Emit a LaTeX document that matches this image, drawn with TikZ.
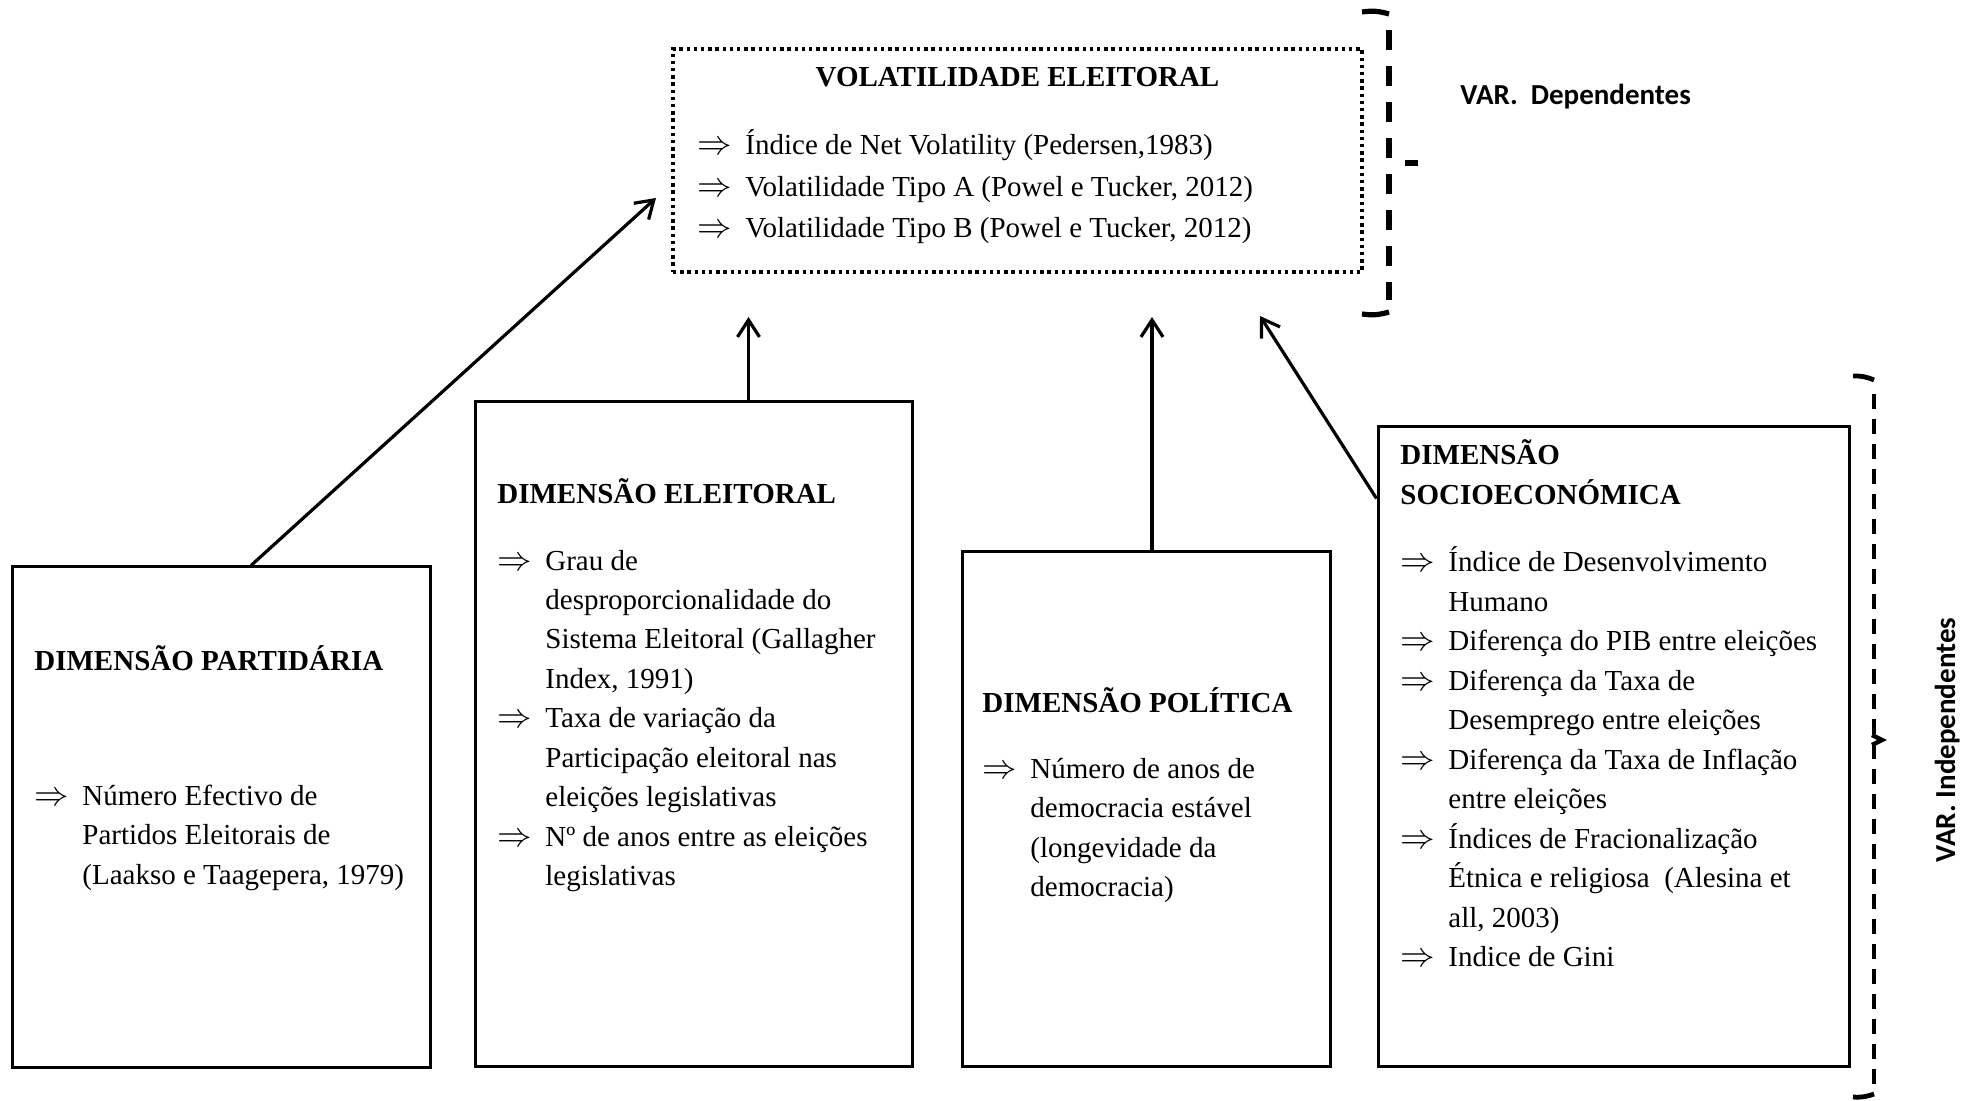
\documentclass[tikz,border=0pt]{standalone}
\usepackage{fontspec}
\setmainfont{Liberation Serif}
\newfontfamily\varfont{Carlito}
\usepackage{tikz}
\usetikzlibrary{arrows.meta, calc}

\newcommand{\imp}{{\fontsize{16}{16}\selectfont$\Rightarrow$}}
\newcommand{\dimlist}[1]{\begin{tabular}[t]{@{}p{24pt}@{}l@{}}#1\end{tabular}}

\begin{document}
\begin{tikzpicture}[
    x=0.5pt, y=-0.5pt,
    font=\fontsize{14.5}{19.75}\selectfont,
    % Define styles
    dimbox/.style = {rectangle, draw, line width=1.5pt, inner sep=0pt},
    depbox/.style = {rectangle, draw, line width=1.7pt, dash pattern=on 1.7pt off 1.9pt, inner sep=0pt},
    title/.style = {anchor=base west, inner sep=0pt, font=\fontsize{14.5}{19.75}\selectfont\bfseries},
    items/.style = {anchor=base west, inner sep=0pt},
    arrow/.style = {line width=1.6pt, -{Straight Barb[length=8.5pt, width=11pt]}},
    bracket/.style = {line width=2.6pt},
    varlabel/.style = {inner sep=0pt, font=\fontsize{14.5}{17}\selectfont\varfont\bfseries}
]
\useasboundingbox (0,0) rectangle (1966,1101);

% Boxes
\node [depbox, minimum width=344.5pt, minimum height=111.5pt] (volatilidade) at (1017.5,160.5) {};
\node [dimbox, minimum width=209pt, minimum height=250pt] (partidaria) at (221,817) {};
\node [dimbox, minimum width=218.5pt, minimum height=332pt] (eleitoral) at (693.5,734) {};
\node [dimbox, minimum width=184pt, minimum height=257pt] (politica) at (1146,809) {};
\node [dimbox, minimum width=235.5pt, minimum height=319.5pt] (socio) at (1613.5,746.5) {};

% Texts
\node [title, anchor=base] (volatilidade-tit) at (1017.5,87) {VOLATILIDADE ELEITORAL};
\node [items, font=\fontsize{14.5}{20.7}\selectfont] (volatilidade-lst) at (697,155) {\dimlist{%
  \imp & Índice de Net Volatility (Pedersen,1983)\\
  \imp & Volatilidade Tipo A (Powel e Tucker, 2012)\\
  \imp & Volatilidade Tipo B (Powel e Tucker, 2012)}};

\node [title] (partidaria-tit) at (34,670) {DIMENSÃO PARTIDÁRIA};
\node [items] (partidaria-lst) at (34,805) {\dimlist{%
  \imp & Número Efectivo de\\
       & Partidos Eleitorais de\\
       & (Laakso e Taagepera, 1979)}};

\node [title] (eleitoral-tit) at (497,504) {DIMENSÃO ELEITORAL};
\node [items] (eleitoral-lst) at (497,570) {\dimlist{%
  \imp & Grau de\\
       & desproporcionalidade do\\
       & Sistema Eleitoral (Gallagher\\
       & Index, 1991)\\
  \imp & Taxa de variação da\\
       & Participação eleitoral nas\\
       & eleições legislativas\\
  \imp & Nº de anos entre as eleições\\
       & legislativas}};

\node [title] (politica-tit) at (982,712) {DIMENSÃO POLÍTICA};
\node [items] (politica-lst) at (982,778) {\dimlist{%
  \imp & Número de anos de\\
       & democracia estável\\
       & (longevidade da\\
       & democracia)}};

\node [title] (socio-tit) at (1400,465) {DIMENSÃO};
\node [title] (socio-tit2) at (1400,505) {SOCIOECONÓMICA};
\node [items] (socio-lst) at (1400,572) {\dimlist{%
  \imp & Índice de Desenvolvimento\\
       & Humano\\
  \imp & Diferença do PIB entre eleições\\
  \imp & Diferença da Taxa de\\
       & Desemprego entre eleições\\
  \imp & Diferença da Taxa de Inflação\\
       & entre eleições\\
  \imp & Índices de Fracionalização\\
       & Étnica e religiosa~ (Alesina et\\
       & all, 2003)\\
  \imp & Indice de Gini}};

% Variable labels
\node [varlabel, anchor=base west] (dep-lbl) at (1460,105) {VAR.~ Dependentes};
\node [varlabel, anchor=base, rotate=90] (indep-lbl) at (1955,740) {VAR. Independentes};

% Brackets
\coordinate (dep-top) at (1389,14);
\coordinate (dep-bot) at (1389,312);
\draw [bracket] (1362,12) to[bend left=12] (dep-top);
\draw [bracket, dash pattern=on 10pt off 8pt] ($(dep-top)+(0,16)$) -- ($(dep-bot)+(0,-12)$);
\draw [bracket] (1362,314) to[bend right=12] (dep-bot);
\draw [bracket] (1405,163) -- (1418,163);

\coordinate (indep-top) at (1874,380);
\coordinate (indep-bot) at (1874,1094);
\draw [bracket, line width=2.4pt] (1853,376) to[bend left=12] (indep-top);
\draw [bracket, line width=2.4pt, dash pattern=on 7.5pt off 5pt] ($(indep-top)+(0,14)$) -- ($(indep-bot)+(0,-10)$);
\draw [bracket, line width=2.4pt] (1853,1097) to[bend right=12] (indep-bot);
\draw [bracket, line width=2.2pt] (1872,735) -- (1882,740) -- (1872,745);

% Arrows
\coordinate (tip-partidaria) at (656,198);
\coordinate (tip-eleitoral) at (748.5,317);
\coordinate (tip-politica) at (1152,317);
\coordinate (tip-socio) at (1260,316);
\draw [arrow] ($(partidaria.north)+(30,0)$) -- (tip-partidaria);
\draw [arrow] ($(eleitoral.north)+(55,0)$) -- (tip-eleitoral);
\draw [arrow] ($(politica.north)+(6,0)$) -- (tip-politica);
\draw [arrow] ($(socio.north west)+(0,73)$) -- (tip-socio);

\end{tikzpicture}
\end{document}
